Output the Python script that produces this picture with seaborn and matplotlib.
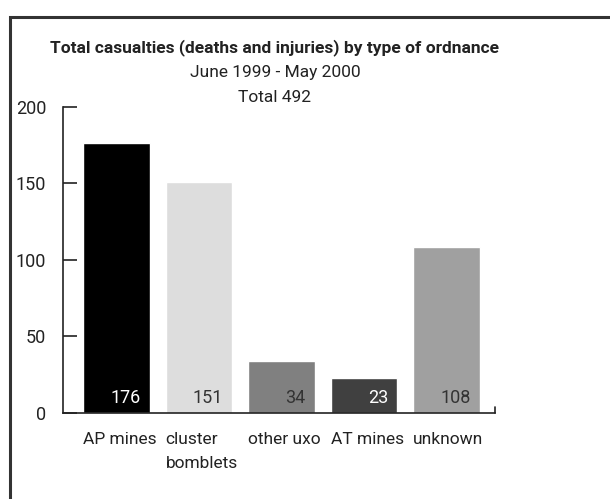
import matplotlib
matplotlib.use("Agg")
import matplotlib.pyplot as plt
import matplotlib.transforms as mtrans
import seaborn as sns
import pandas as pd
from matplotlib.patches import Rectangle

categories = ["AP mines", "cluster\nbomblets", "other uxo", "AT mines", "unknown"]
values = [176, 151, 34, 23, 108]
bar_colors = ["#000000", "#dddddd", "#808080", "#404040", "#a0a0a0"]
label_colors = ["#ffffff", "#333333", "#333333", "#ffffff", "#333333"]
yticks = [0, 50, 100, 150, 200]
title = "Total casualties (deaths and injuries) by type of ordnance"
subtitle1 = "June 1999 - May 2000"
subtitle2 = "Total 492"

sns.set_theme(style="white")
plt.rcParams["font.family"] = ["Roboto", "DejaVu Sans"]

df = pd.DataFrame({"cat": categories, "val": values})

fig = plt.figure(figsize=(6.10, 4.99), dpi=100)
ax = fig.add_axes([63/610, 1-412.7/499, (495-63)/610, (412.7-106.7)/499])

sns.barplot(data=df, x="cat", y="val", hue="cat", palette=bar_colors,
            width=0.81, legend=False, ax=ax, saturation=1)

ax.set_ylim(0, 200)
ax.set_xlim(-0.65, 4.59)
ax.set_yticks(yticks)
ax.set_yticklabels([str(t) for t in yticks])
ax.set_xlabel("")
ax.set_ylabel("")
for s in ["top", "right"]:
    ax.spines[s].set_visible(False)
for s in ["left", "bottom"]:
    ax.spines[s].set_color("#222222")
    ax.spines[s].set_linewidth(1.2)
ax.tick_params(axis="y", direction="in", length=10, width=1.2, color="#222222",
               labelsize=13, labelcolor="#222222", pad=12, left=True)
ax.tick_params(axis="x", length=0, labelsize=12.5, labelcolor="#222222", pad=14)
offset = mtrans.ScaledTranslation(-0.405*82.5/100, 0, fig.dpi_scale_trans)
for lbl in ax.get_xticklabels():
    lbl.set_horizontalalignment("left")
    lbl.set_verticalalignment("top")
    lbl.set_transform(lbl.get_transform() + offset)
    lbl.set_linespacing(1.75)

# small end tick on x axis
ax.plot([1, 1], [0, 0.02], transform=ax.transAxes, color="#222222", lw=1.2, clip_on=False)

for i, (v, c) in enumerate(zip(values, label_colors)):
    ax.text(i + 0.295, 9.6, str(v), ha="right", va="center", color=c, fontsize=13)

fig.text(275/610, 1-48/499, title, ha="center", va="center", fontsize=12.5,
         fontweight="bold", color="#222222")
fig.text(275/610, 1-73/499, subtitle1, ha="center", va="center", fontsize=12.5, color="#222222")
fig.text(275/610, 1-98/499, subtitle2, ha="center", va="center", fontsize=12.5, color="#222222")

fig.patches.append(Rectangle((10/610, -0.1), 1.0, 1-17/499+0.1, transform=fig.transFigure,
                             fill=False, edgecolor="#333333", linewidth=2.2))

fig.savefig("out.png", dpi=100)
